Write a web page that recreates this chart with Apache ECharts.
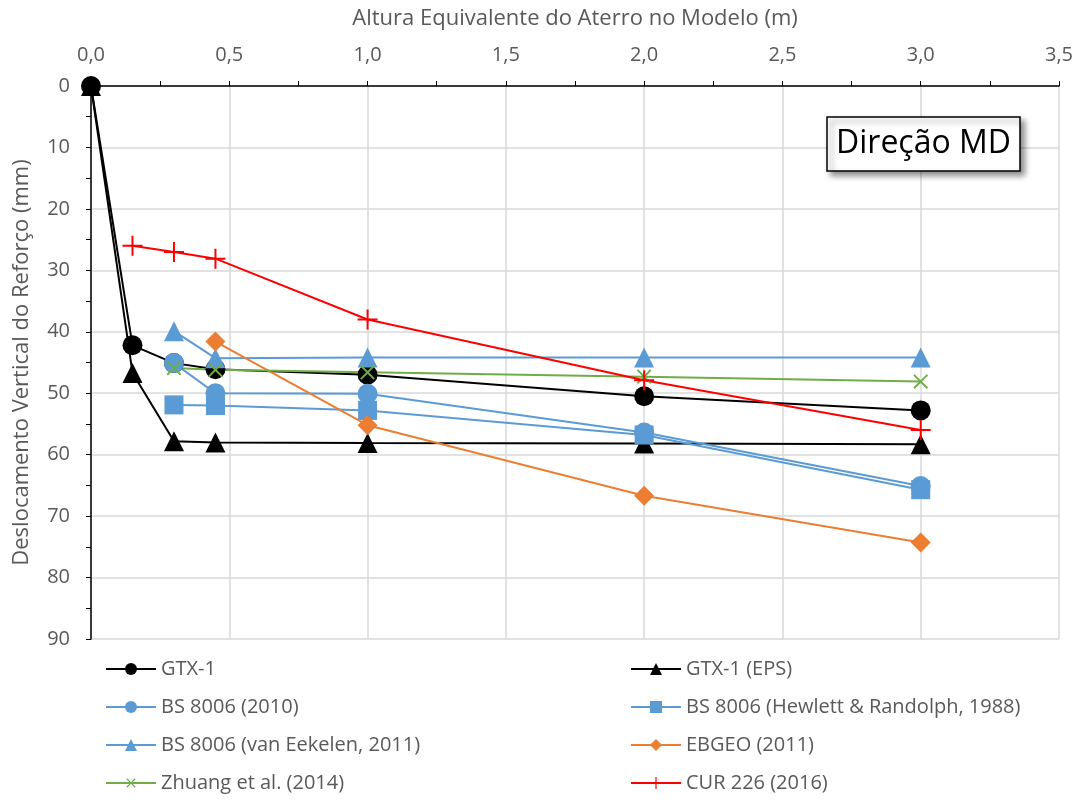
<!DOCTYPE html>
<html><head><meta charset="utf-8">
<script src="https://cdn.jsdelivr.net/npm/echarts@6/dist/echarts.min.js"></script>
<style>html,body{margin:0;padding:0;background:#fff}#c{width:1083px;height:800px}</style>
</head><body><div id="c"></div>
<script>
const xTicks = [0, 0.5, 1, 1.5, 2, 2.5, 3, 3.5];
const gtx1 = [[0,0],[0.15,42.2],[0.3,45.1],[0.45,46.1],[1.0,47.0],[2.0,50.5],[3.0,52.8]];
const gtx1Eps = [[0,0],[0.15,46.7],[0.3,57.8],[0.45,58.0],[1.0,58.1],[2.0,58.2],[3.0,58.3]];
const bs2010 = [[0.3,45.1],[0.45,50.0],[1.0,50.1],[2.0,56.4],[3.0,65.1]];
const bsHR = [[0.3,51.9],[0.45,52.0],[1.0,52.8],[2.0,56.8],[3.0,65.7]];
const bsVE = [[0.3,39.9],[0.45,44.3],[1.0,44.2],[2.0,44.2],[3.0,44.2]];
const ebgeo = [[0.45,41.6],[1.0,55.2],[2.0,66.7],[3.0,74.3]];
const zhuang = [[0.3,45.9],[0.45,46.2],[1.0,46.6],[2.0,47.3],[3.0,48.1]];
const cur226 = [[0.15,26.0],[0.3,27.0],[0.45,28.1],[1.0,38.0],[2.0,47.9],[3.0,56.0]];

const FONT = 'Open Sans';
const GRAY = '#595959';
const PLUS = 'path://M9,0h2v9h9v2h-9v9h-2v-9h-9v-2h9z';

function ser(name, data, color, symbol, size, extra) {
  return Object.assign({
    name, type: 'line', data, symbol, symbolSize: size,
    lineStyle: { color, width: 2 },
    itemStyle: { color, borderWidth: 0 },
    emphasis: { disabled: true }, animation: false
  }, extra || {});
}

const chart = echarts.init(document.getElementById('c'), null, { renderer: 'canvas' });
chart.setOption({
  animation: false,
  textStyle: { fontFamily: FONT },
  title: {
    text: 'Direção MD', left: 827, top: 117,
    padding: [6, 9, 6, 9],
    backgroundColor: '#fff', borderColor: '#000', borderWidth: 1.5,
    shadowBlur: 6, shadowColor: 'rgba(0,0,0,0.45)', shadowOffsetX: 4, shadowOffsetY: 4,
    textStyle: { fontFamily: FONT, fontSize: 32, lineHeight: 42, fontWeight: 'normal', color: '#000' }
  },
  grid: { left: 91, right: 24, top: 86, bottom: 161, containLabel: false },
  xAxis: {
    type: 'value', position: 'top', min: 0, max: 3.5, interval: 0.5,
    name: 'Altura Equivalente do Aterro no Modelo (m)', nameLocation: 'middle', nameGap: 56,
    nameTextStyle: { color: GRAY, fontSize: 22, fontFamily: FONT },
    axisLine: { show: true, onZero: false, lineStyle: { color: '#000', width: 1.5 } },
    axisTick: { show: true, inside: false, length: 5, lineStyle: { color: '#000' } },
    minorTick: { show: true, splitNumber: 2, length: 5, lineStyle: { color: '#000' } },
    splitLine: { show: true, lineStyle: { color: '#d9d9d9', width: 1.5 } },
    axisLabel: { color: GRAY, fontSize: 20, margin: 21, fontFamily: FONT,
      formatter: v => v.toFixed(1).replace('.', ',') }
  },
  yAxis: {
    type: 'value', inverse: true, min: 0, max: 90, interval: 10,
    name: 'Deslocamento Vertical do Reforço (mm)', nameLocation: 'middle', nameGap: 58,
    nameTextStyle: { color: GRAY, fontSize: 22, fontFamily: FONT },
    axisLine: { show: true, onZero: false, lineStyle: { color: '#000', width: 1.5 } },
    axisTick: { show: true, inside: false, length: 5, lineStyle: { color: '#000' } },
    minorTick: { show: true, splitNumber: 2, length: 5, lineStyle: { color: '#000' } },
    splitLine: { show: true, lineStyle: { color: '#d9d9d9', width: 1.5 } },
    axisLabel: { color: GRAY, fontSize: 20, margin: 21, fontFamily: FONT }
  },
  legend: [
    { orient: 'vertical', left: 100, top: 654, height: 200, itemWidth: 50, itemHeight: 15, itemGap: 18,
      textStyle: { color: GRAY, fontSize: 20, fontFamily: FONT },
      data: ['GTX-1', 'BS 8006 (2010)', 'BS 8006 (van Eekelen, 2011)', 'Zhuang et al. (2014)'] },
    { orient: 'vertical', left: 625, top: 654, height: 200, itemWidth: 50, itemHeight: 15, itemGap: 18,
      textStyle: { color: GRAY, fontSize: 20, fontFamily: FONT },
      data: ['GTX-1 (EPS)', 'BS 8006 (Hewlett & Randolph, 1988)', 'EBGEO (2011)', 'CUR 226 (2016)'] }
  ],
  series: [
    ser('GTX-1', gtx1, '#000000', 'circle', 20),
    ser('GTX-1 (EPS)', gtx1Eps, '#000000', 'triangle', 20),
    ser('BS 8006 (2010)', bs2010, '#5b9bd5', 'circle', 20),
    ser('BS 8006 (Hewlett & Randolph, 1988)', bsHR, '#5b9bd5', 'rect', 19),
    ser('BS 8006 (van Eekelen, 2011)', bsVE, '#5b9bd5', 'triangle', 20),
    ser('EBGEO (2011)', ebgeo, '#ed7d31', 'diamond', 20),
    ser('Zhuang et al. (2014)', zhuang, '#70ad47', PLUS, 19, { symbolRotate: 45 }),
    ser('CUR 226 (2016)', cur226, '#ff0000', PLUS, 20)
  ]
});
</script></body></html>
